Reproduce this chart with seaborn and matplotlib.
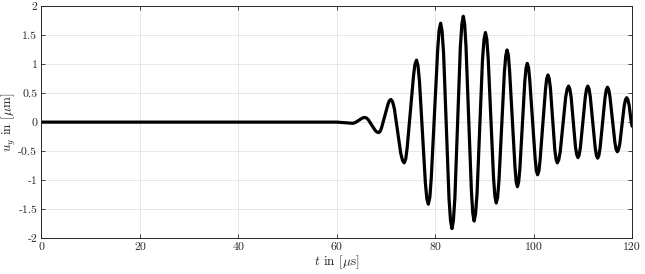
import pandas as pd
import matplotlib
matplotlib.use("Agg")
import matplotlib.pyplot as plt
import seaborn as sns

# Displacement u_y (flat part, then the wave packet),
# one row per half-cycle of the oscillation
t_us = [0.0, 60.0,
        63.2, 63.51, 63.8, 64.45, 65.1, 65.39,
        65.7, 66.05, 66.4, 67.1, 67.8, 68.15,
        68.5, 68.81, 69.1, 69.75, 70.4, 70.69,
        71.0, 71.34, 71.7, 72.35, 73.0, 73.36,
        73.7, 74.01, 74.3, 74.95, 75.6, 75.89,
        76.2, 76.5, 76.8, 77.4, 78.0, 78.3,
        78.6, 78.91, 79.2, 79.85, 80.5, 80.79,
        81.1, 81.39, 81.7, 82.25, 82.8, 83.11,
        83.4, 83.69, 84.0, 84.55, 85.1, 85.41,
        85.7, 85.98, 86.25, 86.8, 87.35, 87.63,
        87.9, 88.19, 88.5, 89.05, 89.6, 89.91,
        90.2, 90.48, 90.75, 91.3, 91.85, 92.13,
        92.4, 92.68, 92.95, 93.5, 94.05, 94.33,
        94.6, 94.86, 95.1, 95.65, 96.2, 96.44,
        96.7, 96.95, 97.2, 97.7, 98.2, 98.45,
        98.7, 98.96, 99.2, 99.75, 100.3, 100.54,
        100.8, 101.06, 101.3, 101.85, 102.4, 102.64,
        102.9, 103.14, 103.4, 103.85, 104.3, 104.56,
        104.8, 105.09, 105.4, 105.95, 106.5, 106.81,
        107.1, 107.34, 107.6, 108.05, 108.5, 108.76,
        109.0, 109.25, 109.5, 110.0, 110.5, 110.75,
        111.0, 111.25, 111.5, 112.0, 112.5, 112.75,
        113.0, 113.25, 113.5, 114.0, 114.5, 114.75,
        115.0, 115.25, 115.5, 116.0, 116.5, 116.75,
        117.0, 117.24, 117.5, 117.95, 118.4, 118.66,
        118.9, 119.13, 119.4, 119.8, 120.0]
u_um = [0.0, 0.0,
        -0.02, -0.016, -0.005, 0.03, 0.065, 0.076,
        0.08, 0.07, 0.042, -0.05, -0.142, -0.17,
        -0.18, -0.158, -0.097, 0.105, 0.307, 0.368,
        0.39, 0.349, 0.23, -0.155, -0.54, -0.659,
        -0.70, -0.633, -0.441, 0.18, 0.806, 0.998,
        1.065, 0.971, 0.702, -0.17, -1.047, -1.316,
        -1.41, -1.292, -0.954, 0.145, 1.244, 1.582,
        1.70, 1.566, 1.183, -0.065, -1.313, -1.696,
        -1.83, -1.691, -1.295, -0.005, 1.285, 1.681,
        1.82, 1.686, 1.304, 0.06, -1.184, -1.566,
        -1.70, -1.577, -1.225, -0.08, 1.065, 1.417,
        1.54, 1.429, 1.111, 0.075, -0.961, -1.279,
        -1.39, -1.29, -1.005, -0.075, 0.855, 1.14,
        1.24, 1.151, 0.896, 0.065, -0.766, -1.021,
        -1.11, -1.029, -0.799, -0.05, 0.699, 0.929,
        1.01, 0.937, 0.73, 0.05, -0.624, -0.832,
        -0.905, -0.84, -0.654, -0.05, 0.559, 0.745,
        0.81, 0.753, 0.589, 0.055, -0.479, -0.643,
        -0.70, -0.65, -0.507, -0.04, 0.427, 0.57,
        0.62, 0.573, 0.44, 0.005, -0.43, -0.563,
        -0.61, -0.563, -0.43, 0.005, 0.44, 0.573,
        0.62, 0.573, 0.438, 0.0, -0.438, -0.573,
        -0.62, -0.574, -0.441, -0.01, 0.421, 0.554,
        0.60, 0.558, 0.437, 0.045, -0.347, -0.468,
        -0.51, -0.475, -0.374, -0.045, 0.284, 0.385,
        0.42, 0.39, 0.29, 0.02, -0.07]

x_ticks = [0, 20, 40, 60, 80, 100, 120]
y_ticks = [-2, -1.5, -1, -0.5, 0, 0.5, 1, 1.5, 2]
y_tick_labels = ["-2", "-1.5", "-1", "-0.5", "0", "0.5", "1", "1.5", "2"]

df = pd.DataFrame({"t": t_us, "u": u_um})

sns.set_theme(style="whitegrid")
plt.rcParams["font.family"] = ["cmr10", "DejaVu Serif"]
plt.rcParams["mathtext.fontset"] = "cm"
plt.rcParams["axes.unicode_minus"] = False
plt.rcParams["axes.formatter.use_mathtext"] = True

fig = plt.figure(figsize=(6.45, 2.74), dpi=100)
ax = fig.add_axes([0.0643, 0.1296, 0.9157, 0.8494])

sns.lineplot(data=df, x="t", y="u", ax=ax, color="black", linewidth=2.3,
             sort=False, estimator=None, solid_joinstyle="round",
             solid_capstyle="round")

ax.set_xlim(0, 120)
ax.set_ylim(-2, 2)
ax.set_xticks(x_ticks)
ax.set_xticklabels([str(v) for v in x_ticks])
ax.set_yticks(y_ticks)
ax.set_yticklabels(y_tick_labels)

ax.grid(True, color="#e3e3e3", linewidth=0.6)
ax.set_facecolor("white")
for s in ax.spines.values():
    s.set_color("#262626")
    s.set_linewidth(0.7)
ax.tick_params(direction="in", length=3, width=0.6, color="#262626",
               labelsize=8.5, labelcolor="#262626", pad=3,
               top=True, right=True, bottom=True, left=True)

ax.set_xlabel(r"$t$ in [$\mu$s]", fontsize=9.5, color="#262626", labelpad=1)
ax.set_ylabel(r"$u_y$ in [$\mu$m]", fontsize=9.5, color="#262626")
ax.yaxis.set_label_coords(-0.039, 0.5)

fig.savefig("out.png", dpi=100)
